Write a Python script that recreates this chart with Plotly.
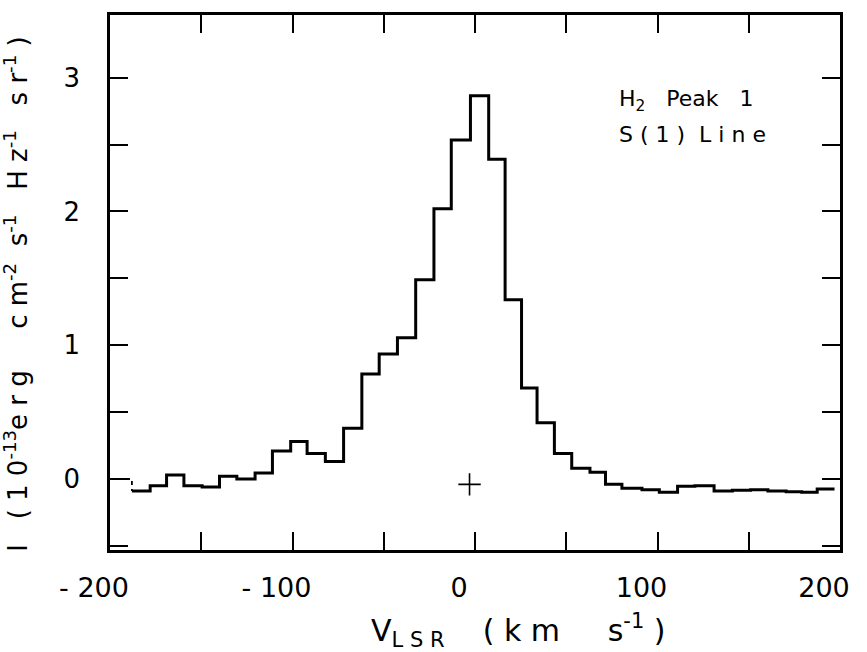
import plotly.graph_objects as go

# Bin edges (km/s) and intensities (1e-13 erg cm^-2 s^-1 Hz^-1 sr^-1)
v_edges = [-188.0, -178.0, -169.0, -159.5, -149.5, -140.0, -130.5, -120.5, -111.0, -101.0,
           -92.0, -82.0, -72.0, -62.0, -52.5, -42.5, -32.5, -22.5, -13.0, -2.5,
           7.5, 16.5, 25.5, 34.0, 43.5, 53.0, 63.0, 71.5, 80.5, 91.5,
           101.0, 111.0, 120.5, 131.0, 141.0, 151.0, 160.5, 170.5, 179.0, 187.5,
           197.0]
intensity = [-0.09, -0.05, 0.03, -0.05, -0.06, 0.02, 0.00, 0.045, 0.21, 0.28,
             0.19, 0.13, 0.38, 0.785, 0.935, 1.055, 1.49, 2.02, 2.535, 2.865,
             2.39, 1.34, 0.68, 0.42, 0.19, 0.08, 0.05, -0.04, -0.07, -0.08,
             -0.10, -0.055, -0.05, -0.09, -0.085, -0.08, -0.09, -0.095, -0.10, -0.075]

# lead-in (faint dashed) from the frame at zero level
lead_v = [-200, -188.0, -188.0]
lead_i = [0.0, 0.0, -0.09]

# reference cross
cross_v = [-3]
cross_i = [-0.04]

x_tickvals = [-200, -150, -100, -50, 0, 50, 100, 150, 200]
x_ticktext = ["- 200", "", "- 100", "", "0", "", "100", "", "200"]
y_tickvals = [-0.5, 0, 0.5, 1, 1.5, 2, 2.5, 3]
y_ticktext = ["", "0", "", "1", "", "2", "", "3"]

FONT = "DejaVu Sans"

fig = go.Figure()
fig.add_trace(go.Scatter(x=lead_v, y=lead_i, mode="lines",
                         line=dict(color="black", width=1.8, dash="4px,4px"),
                         hoverinfo="skip", showlegend=False))
fig.add_trace(go.Scatter(x=v_edges, y=intensity + [intensity[-1]], mode="lines",
                         line=dict(color="black", width=3, shape="hv"),
                         showlegend=False))
fig.add_trace(go.Scatter(x=cross_v, y=cross_i, mode="markers",
                         marker=dict(symbol="cross-thin", size=16,
                                     line=dict(color="black", width=1.6)),
                         showlegend=False))

fig.add_annotation(x=0.695, y=0.84, xref="paper", yref="paper", xanchor="left",
                   yanchor="middle", showarrow=False,
                   text="H<sub>2</sub>   Peak   1",
                   font=dict(family=FONT, size=22, color="black"))
fig.add_annotation(x=0.695, y=0.776, xref="paper", yref="paper", xanchor="left",
                   yanchor="middle", showarrow=False,
                   text="S ( 1 )  L i n e",
                   font=dict(family=FONT, size=22, color="black"))

x_title = "V<sub>L S R</sub>    ( k m     s<sup>-1</sup> )"
y_title = ("I   ( 1 0<sup>-13</sup>e r g     c m<sup>-2</sup>  s<sup>-1</sup>   "
           "H z<sup>-1</sup>   s r<sup>-1</sup> )")

# axis titles placed as annotations for precise placement
fig.add_annotation(x=0.56, y=-0.15, xref="paper", yref="paper", xanchor="center",
                   yanchor="middle", showarrow=False, text=x_title,
                   font=dict(family=FONT, size=30, color="black"))
fig.add_annotation(x=-0.128, y=0.478, xref="paper", yref="paper", xanchor="center",
                   yanchor="middle", showarrow=False, text=y_title, textangle=-90,
                   font=dict(family=FONT, size=26, color="black"))

axis_common = dict(showgrid=False, zeroline=False, showline=True, linecolor="black",
                   linewidth=2.5, mirror="ticks", ticks="inside", ticklen=18,
                   tickwidth=2, tickcolor="black")

fig.update_xaxes(range=[-200, 200], tickmode="array", tickvals=x_tickvals,
                 ticktext=x_ticktext, ticklabelstandoff=12, ticklabelshift=-16,
                 tickfont=dict(family=FONT, size=27, color="black"),
                 **axis_common)
fig.update_yaxes(range=[-0.531, 3.469], tickmode="array", tickvals=y_tickvals,
                 ticktext=y_ticktext,
                 ticklabelstandoff=22,
                 tickfont=dict(family=FONT, size=26, color="black"),
                 **axis_common)

fig.update_layout(width=867, height=652, margin=dict(l=110, r=27, t=15, b=102),
                  plot_bgcolor="white", paper_bgcolor="white",
                  font=dict(family=FONT, color="black"))

fig.write_html("out.html")
